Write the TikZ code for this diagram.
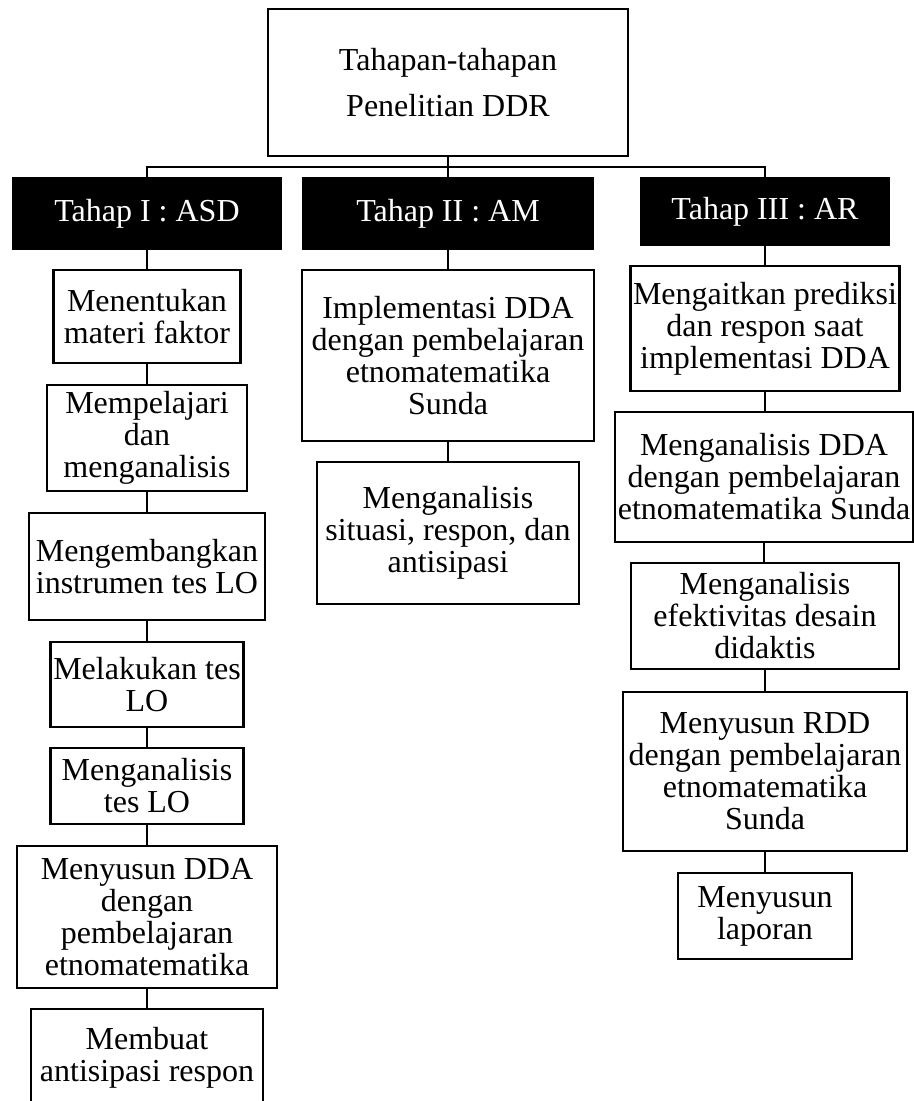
\documentclass[tikz,border=0pt]{standalone}
\usepackage{fontspec}
\setmainfont{Liberation Serif}
\usetikzlibrary{positioning}

\tikzset{
	kotak/.style={draw, line width=1.9pt, align=center, inner sep=0pt, fill=white,
		font=\fontsize{24}{24}\selectfont},
	tahap/.style={fill=black, text=white, inner sep=0pt,
		font=\fontsize{24}{24}\selectfont},
	ukuran/.style 2 args={minimum width=0.75*#1, minimum height=0.75*#2},
	garis/.style={line width=1.6pt}
}

\begin{document}
\begin{tikzpicture}[x=0.75pt, y=-0.75pt]
	\useasboundingbox (0,0) rectangle (914,1101);

	% judul
	\node[kotak, ukuran={360}{147}, font=\fontsize{24}{35}\selectfont]
		(judul) at (448,82.5) {Tahapan-tahapan\\Penelitian DDR};

	% tiga tahap
	\node[tahap, ukuran={270}{73}] (tahapI) at (147,213.5) {Tahap I : ASD};
	\node[tahap, ukuran={292}{73}] (tahapII) at (448,213.5) {Tahap II : AM};
	\node[tahap, ukuran={250}{69}] (tahapIII) at (765,211.5) {Tahap III : AR};

	% Tahap I
	\node[kotak, ukuran={187}{93}] (a1) at (147,316.5) {Menentukan\\materi faktor};
	\node[kotak, ukuran={200}{106}] (a2) at (147,438) {Mempelajari\\dan\\menganalisis};
	\node[kotak, ukuran={236}{107}] (a3) at (147,566.5) {Mengembangkan\\instrumen tes LO};
	\node[kotak, ukuran={193}{85}] (a4) at (147,684.5) {Melakukan tes\\LO};
	\node[kotak, ukuran={193}{76}] (a5) at (147,786) {Menganalisis\\tes LO};
	\node[kotak, ukuran={260}{142}] (a6) at (147,917) {Menyusun DDA\\dengan\\pembelajaran\\etnomatematika};
	\node[kotak, ukuran={232}{97}] (a7) at (147,1057.5) {Membuat\\antisipasi respon};

	% Tahap II
	\node[kotak, ukuran={292}{171}] (b1) at (448,355.5) {Implementasi DDA\\dengan pembelajaran\\etnomatematika\\Sunda};
	\node[kotak, ukuran={262}{142}] (b2) at (448,533) {Menganalisis\\situasi, respon, dan\\antisipasi};

	% Tahap III
	\node[kotak, ukuran={269}{125}] (c1) at (765,328.5) {Mengaitkan prediksi\\dan respon saat\\implementasi DDA};
	\node[kotak, ukuran={298}{130}] (c2) at (764,477) {Menganalisis DDA\\dengan pembelajaran\\etnomatematika Sunda};
	\node[kotak, ukuran={268}{106}] (c3) at (765,616) {Menganalisis\\efektivitas desain\\didaktis};
	\node[kotak, ukuran={284}{159}] (c4) at (765,771.5) {Menyusun RDD\\dengan pembelajaran\\etnomatematika\\Sunda};
	\node[kotak, ukuran={174}{86}] (c5) at (765,916) {Menyusun\\laporan};

	% cabang dari judul
	\coordinate (cabang) at (448,167);
	\draw[garis] (judul.south) -- (cabang);
	\draw[garis] (tahapI.north) |- (cabang) -| (tahapIII.north);
	\draw[garis] (cabang) -- (tahapII.north);

	% sambungan tiap kolom
	\foreach \u/\v in {tahapI/a1, a1/a2, a2/a3, a3/a4, a4/a5, a5/a6, a6/a7,
		tahapII/b1, b1/b2,
		tahapIII/c1, c1/c2, c2/c3, c3/c4, c4/c5}
		\draw[garis] (\u.south) -- (\u.south |- \v.north);
\end{tikzpicture}
\end{document}
